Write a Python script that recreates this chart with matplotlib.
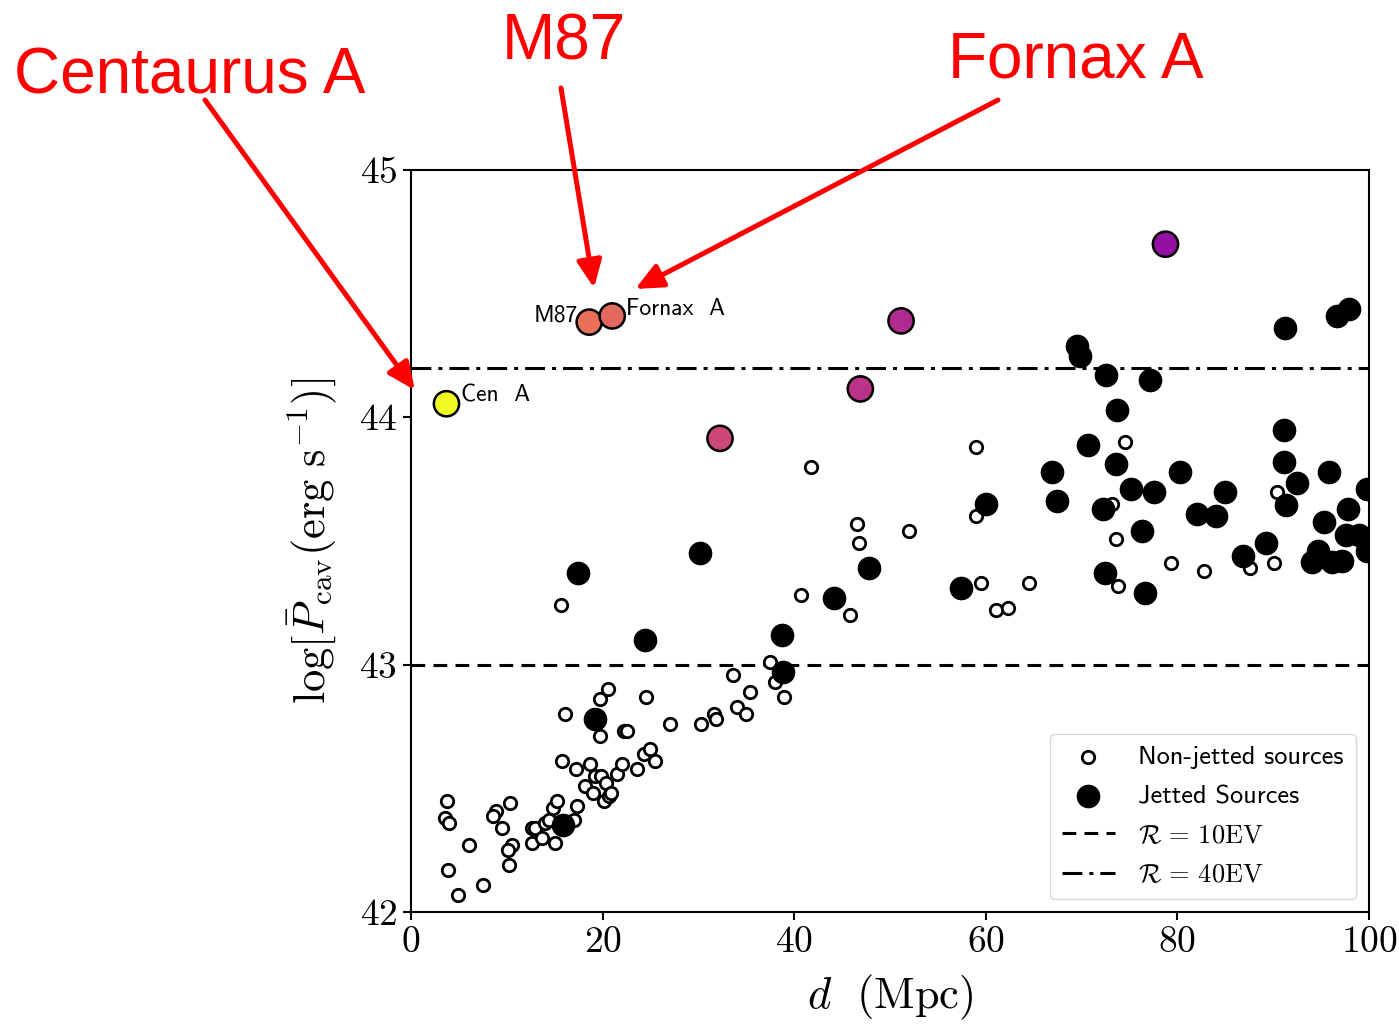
import matplotlib
matplotlib.use("Agg")
import matplotlib.pyplot as plt
from matplotlib import cm

plt.rcParams["mathtext.fontset"] = "cm"
plt.rcParams["font.family"] = "serif"
plt.rcParams["font.serif"] = ["cmr10"]
plt.rcParams["axes.formatter.use_mathtext"] = True

# non-jetted sources (d in Mpc, log Pcav)
open_d = [3.8, 3.5, 4.0, 3.9, 4.9, 6.0, 7.55, 8.85, 8.6, 9.45, 10.3, 10.5, 10.15, 10.25,
          12.6, 12.9, 12.65, 13.7, 14.0, 14.4, 15.05, 14.85, 15.25, 17.35, 17.05, 15.8,
          17.2, 18.7, 18.15, 18.95, 19.2, 19.8, 20.4, 20.15, 20.7, 20.9, 21.55, 22.0,
          23.6, 24.35, 24.9, 25.45, 16.05, 19.75, 19.75, 20.6, 22.25, 22.55, 24.55, 27.0,
          30.25, 31.65, 31.85, 34.05, 35.0, 35.4, 33.6, 37.45, 38.0, 38.9,
          15.65, 40.75, 41.8, 46.6, 46.8, 52.0, 45.8, 59.0, 59.0, 59.5, 61.1, 62.3, 64.5,
          73.2, 73.6, 73.8, 74.5, 79.3, 82.8, 87.6, 90.1, 90.4]
open_p = [42.45, 42.38, 42.36, 42.17, 42.07, 42.27, 42.11, 42.41, 42.39, 42.34, 42.44, 42.27, 42.25, 42.19,
          42.34, 42.34, 42.28, 42.30, 42.36, 42.37, 42.28, 42.42, 42.45, 42.43, 42.37, 42.61,
          42.58, 42.60, 42.51, 42.48, 42.55, 42.55, 42.52, 42.45, 42.47, 42.48, 42.56, 42.60,
          42.58, 42.64, 42.66, 42.61, 42.80, 42.71, 42.86, 42.90, 42.73, 42.73, 42.87, 42.76,
          42.76, 42.80, 42.78, 42.83, 42.80, 42.89, 42.96, 43.01, 42.93, 42.87,
          43.24, 43.28, 43.80, 43.57, 43.49, 43.54, 43.20, 43.88, 43.60, 43.33, 43.22, 43.23, 43.33,
          43.65, 43.51, 43.32, 43.90, 43.41, 43.38, 43.39, 43.41, 43.70]

# jetted sources
jet_d = [15.9, 19.2, 38.8, 24.45, 38.75, 17.45, 30.15, 44.1, 47.85, 57.4, 60.0, 66.9, 67.45,
         70.7, 73.7, 73.55, 72.2, 75.1, 77.6, 80.3, 76.3, 72.4, 76.6, 82.0, 84.0, 84.95, 86.8,
         89.2, 91.1, 91.1, 92.5, 91.3, 95.8, 95.25, 97.8, 97.6, 98.9, 99.8, 99.8, 94.7, 94.0,
         96.1, 97.15, 69.5, 69.8, 72.55, 77.1, 91.2, 96.7, 97.95]
jet_p = [42.35, 42.78, 42.97, 43.10, 43.12, 43.37, 43.45, 43.27, 43.39, 43.31, 43.65, 43.78, 43.66,
         43.89, 44.03, 43.81, 43.63, 43.71, 43.70, 43.78, 43.54, 43.37, 43.29, 43.61, 43.60, 43.70, 43.44,
         43.49, 43.95, 43.82, 43.735, 43.645, 43.78, 43.575, 43.63, 43.525, 43.525, 43.46, 43.71, 43.46, 43.415,
         43.415, 43.42, 44.29, 44.25, 44.17, 44.15, 44.36, 44.41, 44.44]

# highlighted jetted sources, coloured by plasma value
hl_d = [3.7, 18.6, 21.0, 32.25, 46.9, 51.15, 78.75]
hl_p = [44.055, 44.385, 44.41, 43.915, 44.115, 44.39, 44.70]
hl_c = [1.0, 0.64, 0.61, 0.5, 0.43, 0.40, 0.31]

ratio_levels = [43.0, 44.2]
ratio_labels = [r"$\mathcal{R}\,=\,10\mathrm{EV}$", r"$\mathcal{R}\,=\,40\mathrm{EV}$"]

fig = plt.figure(figsize=(13.99, 10.26), dpi=100)
ax = fig.add_axes([0.2938, 0.1111, 0.6848, 0.7232])

ax.scatter(open_d, open_p, s=80, facecolors="white", edgecolors="black",
           linewidths=2.0, zorder=3, label="Non-jetted sources")
ax.scatter(jet_d, jet_p, s=290, c="black", linewidths=0, zorder=4, label="Jetted Sources")
ax.scatter(hl_d, hl_p, s=330, c=[cm.plasma(v) for v in hl_c], edgecolors="black",
           linewidths=1.8, zorder=5)

ax.axhline(ratio_levels[0], color="black", lw=2.2, linestyle=(0, (4.5, 2.7)),
           zorder=2, label=ratio_labels[0])
ax.axhline(ratio_levels[1], color="black", lw=2.2, linestyle=(0, (6.5, 2.3, 1.3, 2.3)),
           zorder=2, label=ratio_labels[1])

sans = ["cmss10", "DejaVu Sans"]
ax.text(5.2, 44.09, "Cen  A", family=sans, fontsize=17, ha="left", va="center", zorder=6)
ax.text(17.4, 44.41, "M87", family=sans, fontsize=17, ha="right", va="center", zorder=6)
ax.text(22.4, 44.44, "Fornax  A", family=sans, fontsize=17, ha="left", va="center", zorder=6)

ax.set_xlim(0, 100)
ax.set_ylim(42, 45)
ax.set_xticks([0, 20, 40, 60, 80, 100])
ax.set_yticks([42, 43, 44, 45])
ax.tick_params(direction="out", length=6, width=1.5, labelsize=27, pad=4)
for sp in ax.spines.values():
    sp.set_linewidth(1.5)

ax.set_xlabel(r"$d\ \ (\mathrm{Mpc})$", fontsize=32, labelpad=10)
ax.set_ylabel(r"$\log[\bar{P}_{\rm cav}(\rm erg\ s^{-1})]$", fontsize=32, labelpad=14)

leg = ax.legend(loc="lower right", prop={"family": sans, "size": 19},
                labelspacing=0.6, handlelength=2.0, handletextpad=0.9, borderpad=0.45)

# red call-outs
red_font = ["Liberation Sans", "DejaVu Sans"]
fig.text(14 / 1399, 1 - 94 / 1026, "Centaurus A", color="red", fontsize=46,
         family=red_font, ha="left", va="baseline")
fig.text(502 / 1399, 1 - 59 / 1026, "M87", color="red", fontsize=46,
         family=red_font, ha="left", va="baseline")
fig.text(948 / 1399, 1 - 77 / 1026, "Fornax A", color="red", fontsize=46,
         family=red_font, ha="left", va="baseline")

arrow = dict(arrowstyle="-|>,head_length=1.1,head_width=0.5", color="red", lw=3.6,
             mutation_scale=15, shrinkA=0, shrinkB=0)
ax.annotate("", xy=(0.4, 44.11), xycoords="data",
            xytext=(205 / 1399, 1 - 100 / 1026), textcoords="figure fraction",
            arrowprops=arrow, annotation_clip=False, zorder=7)
ax.annotate("", xy=(19.1, 44.523), xycoords="data",
            xytext=(561 / 1399, 1 - 88 / 1026), textcoords="figure fraction",
            arrowprops=arrow, annotation_clip=False, zorder=7)
ax.annotate("", xy=(23.4, 44.519), xycoords="data",
            xytext=(998 / 1399, 1 - 100 / 1026), textcoords="figure fraction",
            arrowprops=arrow, annotation_clip=False, zorder=7)

fig.savefig("out.png", dpi=100)
